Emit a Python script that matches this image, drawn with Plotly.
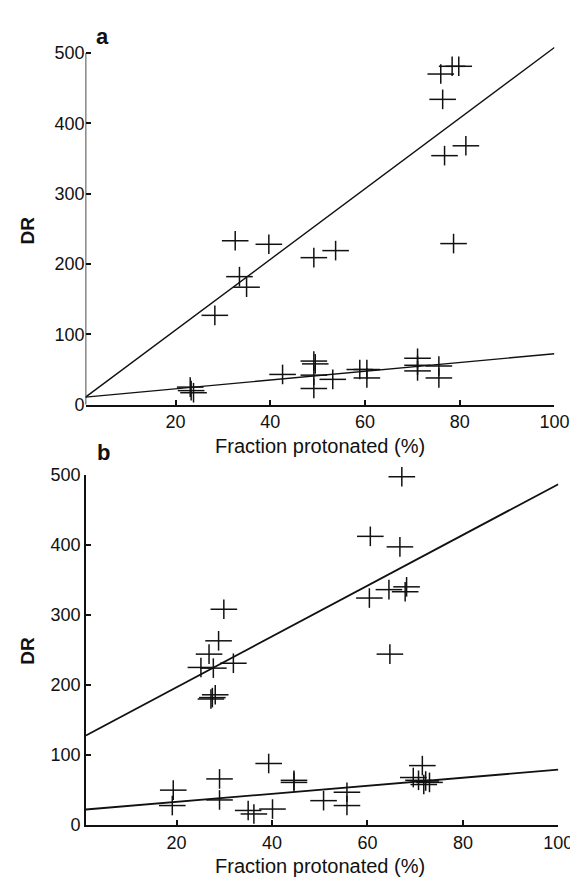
import plotly.graph_objects as go

# ---------------- data ----------------
a_high_x = [76.0, 78.4, 79.8, 76.4, 76.8, 81.3, 78.7, 32.6, 39.7, 49.2, 53.8, 33.5, 35.0, 28.3]
a_high_y = [470, 481, 481, 434, 354, 368, 229, 233, 228, 209, 219, 182, 167, 127]
a_low_x = [23.1, 23.3, 23.8, 42.6, 49.2, 49.5, 49.2, 49.2, 53.2, 58.9, 60.4, 60.4, 71.1, 71.1, 71.1, 75.6, 75.6]
a_low_y = [25, 20, 17, 43, 62, 58, 42, 23, 36, 50, 50, 38, 66, 56, 48, 55, 38]

b_high_x = [67.2, 60.6, 66.8, 60.4, 64.5, 67.9, 68.2, 64.7, 29.9, 28.8, 26.8, 25.1, 27.7, 31.9, 28.1, 27.5, 27.2]
b_high_y = [497, 412, 397, 324, 336, 333, 340, 244, 308, 263, 244, 225, 224, 231, 186, 182, 180]
b_low_x = [19.3, 19.1, 29.0, 29.0, 39.3, 40.1, 35.0, 36.2, 44.6, 44.6, 50.8, 55.7, 55.7, 71.5, 69.6, 70.7, 72.2, 71.8, 73.0]
b_low_y = [50, 28, 66, 36, 88, 23, 21, 16, 64, 61, 35, 47, 28, 85, 68, 64, 63, 58, 61]

# regression lines: (intercept, slope)
a_fits = [(5.7, 5.02), (10.1, 0.623)]
b_fits = [(124.4, 3.62), (21.8, 0.574)]

x_ticks = [20, 40, 60, 80, 100]
y_ticks = [0, 100, 200, 300, 400, 500]
x_lo, x_hi = 1, 100

panels = [
    ("a", "x", "y", [(a_high_x, a_high_y), (a_low_x, a_low_y)], a_fits, 1.4),
    ("b", "x2", "y2", [(b_high_x, b_high_y), (b_low_x, b_low_y)], b_fits, 1.8),
]

FONT = "Liberation Sans, Arial, sans-serif"
INK = "#111111"

fig = go.Figure()
for label, xr, yr, groups, fits, lw in panels:
    for b0, b1 in fits:
        fig.add_trace(go.Scatter(
            x=[x_lo, x_hi], y=[b0 + b1 * x_lo, b0 + b1 * x_hi],
            mode="lines", line=dict(color=INK, width=lw),
            xaxis=xr, yaxis=yr, showlegend=False, hoverinfo="skip"))
    for gx, gy in groups:
        fig.add_trace(go.Scatter(
            x=gx, y=gy, mode="markers", xaxis=xr, yaxis=yr, showlegend=False,
            cliponaxis=False,
            marker=dict(symbol="line-ew", size=19, line=dict(color=INK, width=1.5))))
        fig.add_trace(go.Scatter(
            x=gx, y=gy, mode="markers", xaxis=xr, yaxis=yr, showlegend=False,
            cliponaxis=False,
            marker=dict(symbol="line-ns", size=14, line=dict(color=INK, width=1.5))))

W, H = 578, 878

def px(v):
    return v / W

def py(v):
    return 1 - v / H

xaxis_common = dict(
    range=[x_lo, x_hi], tickvals=x_ticks, ticks="inside", ticklen=5, tickwidth=1.5,
    tickcolor=INK, showline=True, linecolor=INK, linewidth=1.5, showgrid=False,
    zeroline=False, tickfont=dict(family=FONT, size=18, color=INK))
yaxis_common = dict(
    tickvals=y_ticks, ticks="inside", ticklen=5, tickwidth=1.5, tickcolor=INK,
    showgrid=False, zeroline=False, tickfont=dict(family=FONT, size=18, color=INK))

fig.update_layout(
    width=W, height=H, margin=dict(l=0, r=0, t=0, b=0),
    paper_bgcolor="white", plot_bgcolor="white",
    xaxis=dict(domain=[px(79.6), px(561)], anchor="y", **xaxis_common),
    yaxis=dict(domain=[py(395.7), py(27.1)], anchor="x", range=[0, 512],
               showline=False, **yaxis_common),
    xaxis2=dict(domain=[px(80), px(565)], anchor="y2", **xaxis_common),
    yaxis2=dict(domain=[py(826), py(467.3)], anchor="x2", range=[0, 500],
                showline=True, linecolor=INK, linewidth=1.5, **yaxis_common),
)

# y axis line of panel a stops at 500
fig.add_shape(type="line", xref="x", yref="y", x0=x_lo, x1=x_lo, y0=0, y1=500,
              line=dict(color=INK, width=1.5))

ann = []
for lab, lx, ly, ty, dry in [("a", 97, 19, 438, 217), ("b", 98, 445, 868, 647)]:
    common = dict(xref="paper", yref="paper", showarrow=False,
                  xanchor="center", yanchor="middle")
    ann.append(dict(text=f"<b>{lab}</b>", x=px(lx), y=py(ly),
                    font=dict(family=FONT, size=22, color=INK), **common))
    ann.append(dict(text="Fraction protonated (%)", x=px(320), y=py(ty),
                    font=dict(family=FONT, size=20, color=INK), **common))
    ann.append(dict(text="<b>DR</b>", x=px(20), y=py(dry), textangle=-90,
                    font=dict(family=FONT, size=19, color=INK), **common))
fig.update_layout(annotations=ann)

fig.write_html("out.html")
